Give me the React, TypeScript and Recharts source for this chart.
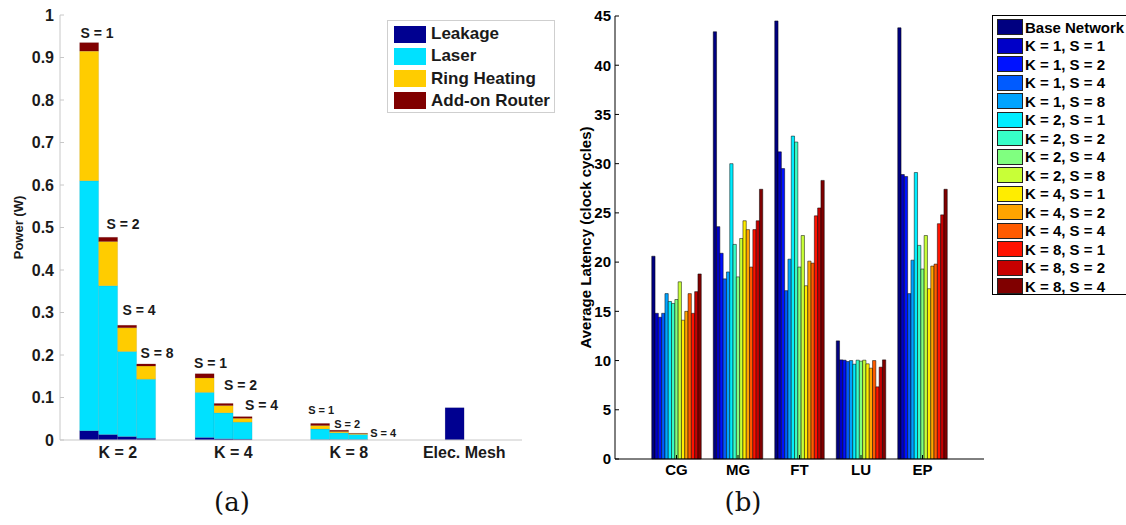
import React from 'react';
import { BarChart, Bar, XAxis, YAxis, Legend } from 'recharts';

// ---------- (a) Power breakdown ----------
const powerCategories = ['K = 2', 'K = 4', 'K = 8', 'Elec. Mesh'];
const sLabels = ['S = 1', 'S = 2', 'S = 4', 'S = 8'];
// rows: category, columns: slot (S = 1, 2, 4, 8); segment heights in W
const leakage: (number | null)[][] = [
  [0.022, 0.013, 0.008, 0.004],
  [0.006, 0.003, 0.002, null],
  [0.001, 0.001, 0.001, null],
  [null, 0.076, null, null],
];
const laser: (number | null)[][] = [
  [0.588, 0.35, 0.2, 0.139],
  [0.106, 0.061, 0.04, null],
  [0.025, 0.016, 0.012, null],
  [null, null, null, null],
];
const ringHeating: (number | null)[][] = [
  [0.305, 0.104, 0.056, 0.031],
  [0.034, 0.017, 0.009, null],
  [0.008, 0.003, 0.002, null],
  [null, null, null, null],
];
const addOnRouter: (number | null)[][] = [
  [0.02, 0.01, 0.006, 0.005],
  [0.01, 0.005, 0.004, null],
  [0.005, 0.003, 0.001, null],
  [null, null, null, null],
];
const powerTicks = [0, 0.1, 0.2, 0.3, 0.4, 0.5, 0.6, 0.7, 0.8, 0.9, 1];
const powerComponents = ['Leakage', 'Laser', 'Ring Heating', 'Add-on Router'];
const powerColors = ['#000090', '#00E1FF', '#FFCC00', '#800000'];
const powerKeys = ['leak', 'laser', 'ring', 'router'];
const powerSources = [leakage, laser, ringHeating, addOnRouter];

// ---------- (b) Latency ----------
const latencyCategories = ['CG', 'MG', 'FT', 'LU', 'EP'];
const latencySeriesNames = [
  'Base Network',
  'K = 1, S = 1', 'K = 1, S = 2', 'K = 1, S = 4', 'K = 1, S = 8',
  'K = 2, S = 1', 'K = 2, S = 2', 'K = 2, S = 4', 'K = 2, S = 8',
  'K = 4, S = 1', 'K = 4, S = 2', 'K = 4, S = 4',
  'K = 8, S = 1', 'K = 8, S = 2', 'K = 8, S = 4',
];
const baseNetwork = [20.6, 43.4, 44.5, 12.0, 43.8];
const k1s1 = [14.8, 23.6, 31.2, 10.07, 28.9];
const k1s2 = [14.4, 20.9, 29.5, 10.04, 28.7];
const k1s4 = [14.8, 18.3, 17.1, 9.9, 16.8];
const k1s8 = [16.8, 19.0, 20.3, 10.0, 20.2];
const k2s1 = [16.0, 30.0, 32.8, 9.63, 29.1];
const k2s2 = [15.8, 21.8, 32.2, 10.04, 21.7];
const k2s4 = [16.2, 18.5, 19.5, 9.94, 19.3];
const k2s8 = [18.0, 22.4, 22.7, 10.04, 22.7];
const k4s1 = [14.1, 24.2, 17.6, 9.67, 17.3];
const k4s2 = [15.0, 23.3, 20.1, 9.23, 19.6];
const k4s4 = [16.8, 19.5, 19.9, 10.0, 19.8];
const k8s1 = [14.8, 23.3, 24.7, 7.33, 23.9];
const k8s2 = [17.0, 24.2, 25.5, 9.33, 24.8];
const k8s4 = [18.8, 27.4, 28.3, 10.07, 27.4];
const latencySeries = [baseNetwork, k1s1, k1s2, k1s4, k1s8, k2s1, k2s2, k2s4, k2s8, k4s1, k4s2, k4s4, k8s1, k8s2, k8s4];
const latencyColors = [
  '#000080', '#0000C8', '#0012FF', '#005BFF', '#00A4FF', '#00EDFF', '#37FFC8', '#80FF80',
  '#C8FF37', '#FFED00', '#FFA400', '#FF5B00', '#FF1200', '#C80000', '#800000',
];
const latencyTicks = [0, 5, 10, 15, 20, 25, 30, 35, 40, 45];

// label nudges for the "S = n" annotations: [dx from bar centre, dy from bar top, font size]
const sLabelLayout: number[][][] = [
  [[8, -10, 14], [15, -13, 14], [12, -15, 14], [11, -11, 14]],
  [[6, -11, 14], [17, -18, 14], [19, -12, 14]],
  [[1, -13, 11], [8, -6, 11], [25, 0, 11]],
  [],
];

const FONT = '"Liberation Sans", Arial, Helvetica, sans-serif';

const powerData = powerCategories.map((name, i) => {
  const row: Record<string, any> = { name };
  for (let s = 0; s < 4; s++) {
    powerKeys.forEach((k, c) => {
      const v = powerSources[c][i][s];
      row[`${k}${s}`] = v == null ? undefined : v;
    });
  }
  return row;
});

const latencyData = latencyCategories.map((name, i) => {
  const row: Record<string, any> = { name };
  latencySeries.forEach((arr, j) => {
    row[`s${j}`] = arr[i];
  });
  return row;
});

const renderSLabel = (slot: number) => (props: any) => {
  const { x, y, width, index } = props;
  const v = addOnRouter[index]?.[slot];
  const nudge = sLabelLayout[index]?.[slot];
  if (v == null || !nudge) return <g />;
  const [dx, dy, fs] = nudge;
  return (
    <text
      x={Number(x) + Number(width) / 2 + dx}
      y={Number(y) + dy}
      textAnchor="middle"
      dominantBaseline="central"
      fontSize={fs}
      fontWeight="bold"
      fontFamily={FONT}
      fill="#1a1a1a"
    >
      {sLabels[slot]}
    </text>
  );
};

const PowerLegend = () => (
  <div
    style={{
      width: 168,
      height: 93,
      boxSizing: 'border-box',
      border: '1px solid #cfcfcf',
      background: '#fff',
      position: 'relative',
      fontFamily: FONT,
    }}
  >
    {powerComponents.map((n, i) => (
      <div key={n} style={{ position: 'absolute', left: 6, top: 4 + i * 22.3, height: 18, display: 'flex', alignItems: 'center' }}>
        <div style={{ width: 32, height: 17, background: powerColors[i] }} />
        <span style={{ marginLeft: 5, fontSize: 17, fontWeight: 'bold', color: '#1a1a1a', whiteSpace: 'nowrap' }}>{n}</span>
      </div>
    ))}
  </div>
);

const LatencyLegend = () => (
  <div
    style={{
      width: 140,
      height: 280,
      boxSizing: 'border-box',
      border: '1px solid #000',
      background: '#fff',
      position: 'relative',
      fontFamily: FONT,
    }}
  >
    {latencySeriesNames.map((n, i) => (
      <div key={n} style={{ position: 'absolute', left: 4, top: 2 + i * 18.5, height: 18, display: 'flex', alignItems: 'center' }}>
        <div style={{ width: 24, height: 14, background: latencyColors[i], border: '1px solid #222' }} />
        <span style={{ marginLeft: 2, fontSize: 15, fontWeight: 'bold', color: '#000', whiteSpace: 'nowrap' }}>{n}</span>
      </div>
    ))}
  </div>
);

const powerTitle = (props: any) => {
  const vb = props.viewBox || {};
  const cx = vb.x - 2;
  const cy = vb.y + vb.height / 2;
  return (
    <text x={cx} y={cy} transform={`rotate(-90 ${cx} ${cy})`} textAnchor="middle" dominantBaseline="central" fontSize={13} fontWeight="bold" fontFamily={FONT} fill="#1a1a1a">
      Power (W)
    </text>
  );
};

const latencyTitle = (props: any) => {
  const vb = props.viewBox || {};
  const cx = vb.x + 5;
  const cy = vb.y + vb.height / 2;
  return (
    <text x={cx} y={cy} transform={`rotate(-90 ${cx} ${cy})`} textAnchor="middle" dominantBaseline="central" fontSize={15} fontWeight="bold" fontFamily={FONT} fill="#000">
      Average Latency (clock cycles)
    </text>
  );
};

export default function App() {
  return (
    <div style={{ position: 'absolute', left: 0, top: 0, width: 1126, height: 525, overflow: 'hidden', background: '#fff' }}>
      <div style={{ position: 'absolute', left: 0, top: 0 }}>
        <BarChart width={560} height={480} data={powerData} margin={{ top: 15, right: 38, bottom: 10, left: 20 }} barCategoryGap="17%" barGap={0}>
          <XAxis
            dataKey="name"
            height={30}
            tickLine={false}
            tickSize={0}
            tickMargin={7}
            axisLine={{ stroke: '#c8c8c8' }}
            tick={{ fontSize: 16, fontWeight: 'bold', fontFamily: FONT, fill: '#1a1a1a' }}
          />
          <YAxis
            width={40}
            domain={[0, 1]}
            ticks={powerTicks}
            interval={0}
            tickSize={-4}
            tickMargin={10}
            tickFormatter={(v: number) => String(+v.toFixed(1))}
            axisLine={{ stroke: '#c8c8c8' }}
            tickLine={{ stroke: '#c8c8c8' }}
            tick={{ fontSize: 16, fontWeight: 'bold', fontFamily: FONT, fill: '#1a1a1a' }}
            label={powerTitle}
          />
          <Legend layout="horizontal" align="center" verticalAlign="middle" wrapperStyle={{ left: 387, top: 20, width: 168, height: 93 }} content={() => <PowerLegend />} />
          {[0, 1, 2, 3].map((s) =>
            powerKeys.map((k, c) => (
              <Bar
                key={`${k}${s}`}
                dataKey={`${k}${s}`}
                name={powerComponents[c]}
                stackId={`slot${s}`}
                fill={powerColors[c]}
                stroke="rgba(0,0,0,0.15)"
                strokeWidth={0.5}
                isAnimationActive={false}
                label={c === 3 ? renderSLabel(s) : undefined}
              />
            ))
          )}
        </BarChart>
      </div>

      <div style={{ position: 'absolute', left: 560, top: 0 }}>
        <BarChart width={566} height={500} data={latencyData} margin={{ top: 16, right: 142, bottom: 11, left: 20 }} barCategoryGap={6} barGap={0}>
          <XAxis
            dataKey="name"
            height={30}
            padding={{ left: 30.75, right: 30.75 }}
            tickSize={-4}
            tickMargin={9}
            axisLine={{ stroke: '#000' }}
            tickLine={{ stroke: '#000' }}
            tick={{ fontSize: 15, fontWeight: 'bold', fontFamily: FONT, fill: '#000' }}
          />
          <XAxis
            xAxisId="top"
            orientation="top"
            dataKey="name"
            height={0}
            padding={{ left: 30.75, right: 30.75 }}
            tickSize={-4}
            tick={false}
            axisLine={{ stroke: '#000' }}
            tickLine={{ stroke: '#000' }}
          />
          <YAxis
            width={35}
            domain={[0, 45]}
            ticks={latencyTicks}
            interval={0}
            tickSize={-4}
            tickMargin={8}
            axisLine={{ stroke: '#000' }}
            tickLine={{ stroke: '#000' }}
            tick={{ fontSize: 15, fontWeight: 'bold', fontFamily: FONT, fill: '#000' }}
            label={latencyTitle}
          />
          <YAxis
            yAxisId="right"
            orientation="right"
            width={0}
            domain={[0, 45]}
            ticks={latencyTicks}
            interval={0}
            tickSize={-4}
            tick={false}
            axisLine={{ stroke: '#000' }}
            tickLine={{ stroke: '#000' }}
          />
          <Legend layout="horizontal" align="center" verticalAlign="middle" wrapperStyle={{ left: 432, top: 15, width: 140, height: 280 }} content={() => <LatencyLegend />} />
          {latencySeries.map((_, j) => (
            <Bar
              key={`s${j}`}
              dataKey={`s${j}`}
              name={latencySeriesNames[j]}
              fill={latencyColors[j]}
              stroke="#000"
              strokeWidth={0.5}
              barSize={3.3}
              isAnimationActive={false}
            />
          ))}
        </BarChart>
      </div>

      <div style={{ position: 'absolute', left: 182, width: 100, top: 484, textAlign: 'center', fontFamily: '"DejaVu Serif", serif', fontSize: 26, lineHeight: '36px', color: '#111' }}>(a)</div>
      <div style={{ position: 'absolute', left: 693, width: 100, top: 484, textAlign: 'center', fontFamily: '"DejaVu Serif", serif', fontSize: 26, lineHeight: '36px', color: '#111' }}>(b)</div>
    </div>
  );
}
